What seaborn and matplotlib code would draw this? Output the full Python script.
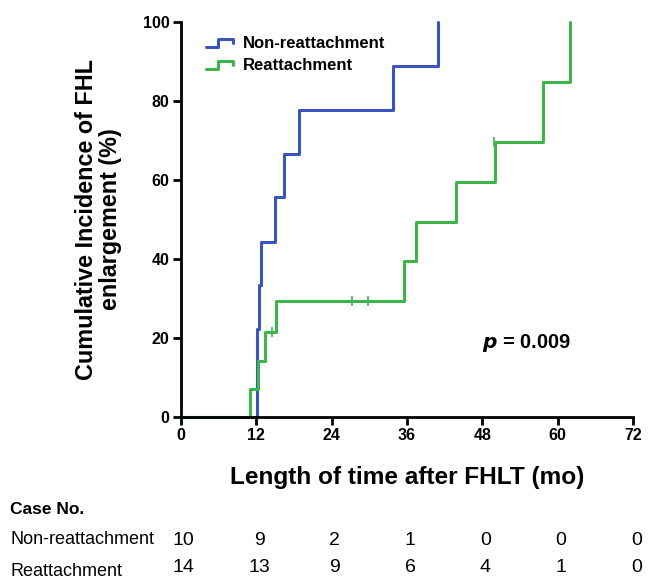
import seaborn as sns
import matplotlib.pyplot as plt
import matplotlib.transforms as mtransforms
import pandas as pd
import numpy as np
from matplotlib.legend_handler import HandlerBase
from matplotlib.lines import Line2D

# Step curves (months, cumulative incidence %)
non_time = [0, 12.2, 12.5, 12.8, 15.0, 16.4, 18.8, 33.8, 40.9]
non_inc = [0, 22.2, 33.3, 44.4, 55.6, 66.7, 77.8, 88.9, 100]
re_time = [0, 11.0, 12.3, 13.4, 15.1, 35.5, 37.4, 43.8, 50.0, 57.6, 61.9]
re_inc = [0, 7.1, 14.3, 21.4, 29.3, 39.4, 49.5, 59.6, 69.7, 84.8, 100]

# Censor marks on the reattachment curve
re_cens_time = [14.5, 27.2, 29.8, 49.8]
re_cens_inc = [21.4, 29.3, 29.3, 69.7]

groups = ["Non-reattachment", "Reattachment"]
colors = ["#3a55c2", "#3db54b"]

# Numbers at risk
risk_times = [0, 12, 24, 36, 48, 60, 72]
risk_non = [10, 9, 2, 1, 0, 0, 0]
risk_re = [14, 13, 9, 6, 4, 1, 0]

df = pd.concat([
    pd.DataFrame({"time": non_time, "inc": non_inc, "group": groups[0]}),
    pd.DataFrame({"time": re_time, "inc": re_inc, "group": groups[1]}),
])

sns.set_style("ticks")
plt.rcParams["font.family"] = ["Liberation Sans", "DejaVu Sans"]
plt.rcParams.update({"text.color": "black", "axes.labelcolor": "black",
                     "xtick.color": "black", "ytick.color": "black"})

fig = plt.figure(figsize=(6.5, 5.8), dpi=100)
ax = fig.add_axes([0.278, 0.281, 0.696, 0.681])

sns.lineplot(data=df, x="time", y="inc", hue="group", palette=colors,
             estimator=None, sort=False, drawstyle="steps-post",
             linewidth=2.2, legend=False, ax=ax, clip_on=False)
ax.plot(re_cens_time, re_cens_inc, linestyle="none", marker="|",
        markersize=7, markeredgewidth=1.2, color=colors[1], clip_on=False)

ax.set_xlim(0, 72)
ax.set_ylim(0, 100)
ax.set_xticks(risk_times)
ax.set_yticks([0, 20, 40, 60, 80, 100])
for lab in ax.get_xticklabels() + ax.get_yticklabels():
    lab.set_fontweight("bold")
    lab.set_fontsize(11.5)
ax.tick_params(direction="out", length=6, width=2, color="black", pad=2)
for side in ["left", "bottom"]:
    ax.spines[side].set_linewidth(2)
    ax.spines[side].set_color("black")
sns.despine(ax=ax)

ax.set_ylabel("Cumulative Incidence of FHL\nenlargement (%)", fontsize=16.8,
              fontweight="bold", linespacing=1.05)
ax.yaxis.set_label_coords(-0.13, 0.5)
ax.set_xlabel("Length of time after FHLT (mo)", fontsize=17.6,
              fontweight="bold")
ax.xaxis.set_label_coords(0.5, -0.124)

ax.text(48, 18.8, r"$\mathbfit{p}$ = 0.009", fontsize=14.5, fontweight="bold",
        va="center", ha="left")


# Legend handles drawn as little step shapes
class StepHandler(HandlerBase):
    def create_artists(self, legend, orig_handle, xdescent, ydescent,
                       width, height, fontsize, trans):
        x0, y0 = -xdescent, -ydescent
        xs = [x0, x0 + 0.45 * width, x0 + 0.45 * width, x0 + width, x0 + width]
        ys = [y0 + 0.15 * height, y0 + 0.15 * height, y0 + 0.85 * height,
              y0 + 0.85 * height, y0 + 0.45 * height]
        line = Line2D(xs, ys, color=orig_handle.get_color(), linewidth=2.2,
                      transform=trans)
        return [line]


handles = [Line2D([], [], color=c) for c in colors]
ax.legend(handles, groups, handler_map={Line2D: StepHandler()},
          loc="upper left", bbox_to_anchor=(0.03, 0.993), frameon=False,
          prop={"weight": "bold", "size": 12}, handlelength=1.6,
          handletextpad=0.6, labelspacing=0.42, borderaxespad=0.3)

# Number at risk table
fig.text(10 / 650, 1 - 509 / 580, "Case No.", fontsize=12.5, fontweight="bold",
         va="center", ha="left")
narrow = ["Liberation Sans Narrow", "Liberation Sans", "DejaVu Sans"]
rows = [(540, 540, groups[0], risk_non), (572, 567, groups[1], risk_re)]
for name_y, num_y, name, vals in rows:
    fig.text(10 / 650, 1 - name_y / 580, name, fontsize=13, family=narrow,
             va="center", ha="left")
    shift = mtransforms.ScaledTranslation(0, -(num_y - 417) / 100,
                                          fig.dpi_scale_trans)
    for t, v in zip(risk_times, vals):
        ax.text(t + 0.5, 0, str(v), fontsize=14, family=narrow,
                ha="center", va="center",
                transform=ax.get_xaxis_transform() + shift)

plt.savefig("out.png", dpi=100)
